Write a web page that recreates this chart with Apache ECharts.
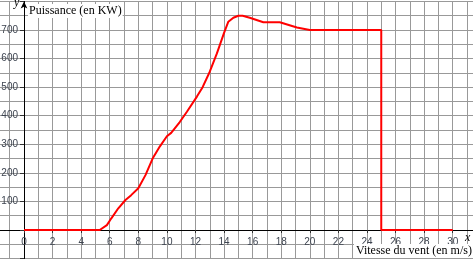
<!DOCTYPE html>
<html>
<head>
<meta charset="utf-8">
<script src="https://cdn.jsdelivr.net/npm/echarts@6/dist/echarts.min.js"></script>
<style>
html,body{margin:0;padding:0;background:#fff;}
#chart{width:473px;height:259px;}
</style>
</head>
<body>
<div id="chart"></div>
<script>
// Wind speed (m/s) and power (KW)
const windSpeed = [0, 5.3, 5.8, 6.1, 6.6, 7.1, 7.5, 8.0, 8.5, 9.0, 9.5, 10.0, 10.3, 10.9, 11.4, 12.1, 12.5, 13.0, 13.5, 14.0, 14.3, 14.65, 15.0, 15.3, 15.8, 16.75, 17.9, 19.1, 20.0, 25.0, 25.0, 30.0];
const power     = [0, 0,   17,  40,  76,  105, 122, 146, 192, 250, 292, 328,  340,  378,  414,  467,  500,  554,  618,  690,  729,  743,   750,  750,  743,  727,   727,  709,  700,  700,  0,    0];
const xTickLabels = [0, 2, 4, 6, 8, 10, 12, 14, 16, 18, 20, 22, 24, 26, 28, 30];
const yTickLabels = [100, 200, 300, 400, 500, 600, 700];
const xTitle = 'Vitesse du vent (en m/s)';
const yTitle = 'Puissance (en KW)';

const W = 473, H = 259;
// pixel layout: x=0 at 24px, 14.29px per m/s; y=0 at 230px, 0.2857px per KW
const x0px = 24, xScale = 14.29, y0px = 230, yScale = 0.2857;
const xMin = -2, xMax = 32, yMin = -100, yMax = 800;
const gridLeft = x0px + xMin * xScale;
const gridRight = W - (x0px + xMax * xScale);
const gridTop = y0px - yMax * yScale;
const gridBottom = H - (y0px - yMin * yScale);

const chart = echarts.init(document.getElementById('chart'), null, {renderer: 'canvas'});
const data = windSpeed.map((x, i) => [x, power[i]]);
const gridColor = '#999999';
const labelBase = {
  show: true,
  fontFamily: 'Liberation Sans',
  fontSize: 10,
  color: '#3d4450'
};
chart.setOption({
  animation: false,
  backgroundColor: '#fff',
  grid: {left: gridLeft, right: gridRight, top: gridTop, bottom: gridBottom, outerBoundsMode: 'none'},
  xAxis: {
    type: 'value', min: xMin, max: xMax, interval: 2,
    position: 'bottom',
    offset: -(H - gridBottom - y0px),
    axisLine: {show: true, onZero: false, lineStyle: {color: '#000', width: 1}},
    axisTick: {show: true, length: 3, lineStyle: {color: '#333'}},
    axisLabel: Object.assign({
      margin: 7,
      formatter: function (v) { return xTickLabels.indexOf(Math.round(v)) >= 0 ? String(Math.round(v)) : ''; }
    }, labelBase),
    splitLine: {show: true, lineStyle: {color: gridColor, width: 1}},
    minorTick: {show: false, splitNumber: 2},
    minorSplitLine: {show: true, lineStyle: {color: gridColor, width: 1}}
  },
  yAxis: {
    type: 'value', min: yMin, max: yMax, interval: 100,
    position: 'left',
    offset: -(x0px - gridLeft),
    axisLine: {show: true, onZero: false, symbol: ['none', 'arrow'], symbolSize: [5, 7], lineStyle: {color: '#000', width: 1}},
    axisTick: {show: true, length: 4, lineStyle: {color: '#333'}},
    axisLabel: Object.assign({
      margin: 6,
      formatter: function (v) { return yTickLabels.indexOf(Math.round(v)) >= 0 ? String(Math.round(v)) : ''; }
    }, labelBase),
    splitLine: {show: true, lineStyle: {color: gridColor, width: 1}},
    minorTick: {show: false, splitNumber: 2},
    minorSplitLine: {show: true, lineStyle: {color: gridColor, width: 1}}
  },
  graphic: [
    {type: 'text', left: 14, top: -3, z: 100,
     style: {text: 'y', font: 'italic 12px "Liberation Serif", serif', fill: '#000'}},
    {type: 'text', left: 28, top: 4, z: 100,
     style: {text: yTitle, font: '12px "Liberation Serif", serif', fill: '#000', backgroundColor: '#fff', padding: [1, 1]}},
    {type: 'text', left: 354, top: 244, z: 100,
     style: {text: xTitle, font: '12px "Liberation Serif", serif', fill: '#000', backgroundColor: '#fff', padding: [1, 2]}},
    {type: 'text', left: 465, top: 232, z: 100,
     style: {text: 'x', font: 'italic 12px "Liberation Serif", serif', fill: '#000'}}
  ],
  series: [{
    type: 'line',
    data: data,
    showSymbol: false,
    symbol: 'none',
    lineStyle: {color: '#ff0000', width: 2},
    itemStyle: {color: '#ff0000'},
    z: 10
  }]
});
</script>
</body>
</html>
